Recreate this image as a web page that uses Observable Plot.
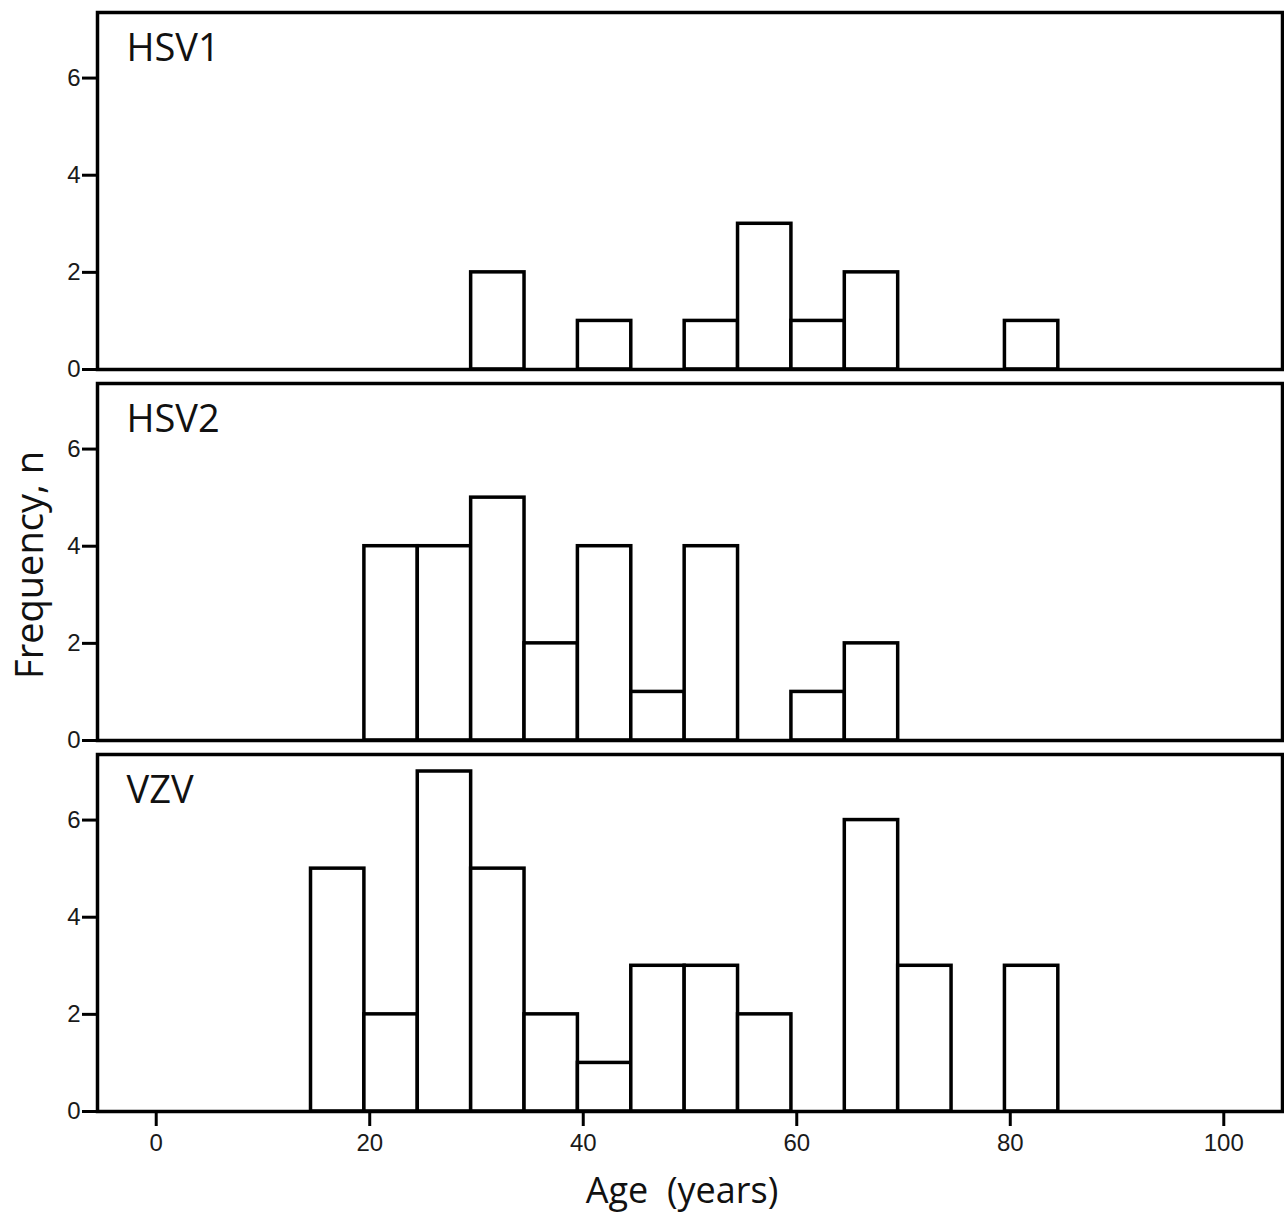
<!DOCTYPE html>
<html>
<head>
<meta charset="utf-8">
<script src="https://cdn.jsdelivr.net/npm/d3@7"></script>
<script src="https://cdn.jsdelivr.net/npm/@observablehq/plot@0.6"></script>
<style>
  html, body { margin: 0; padding: 0; background: #fff; }
  #chart svg { display: block; }
</style>
</head>
<body>
<div id="chart"></div>
<script>
// Panels (viruses)
const panels = ["HSV1", "HSV2", "VZV"];
// Lower edge of each 5-year age bin (years)
const binStarts = [15, 20, 25, 30, 35, 40, 45, 50, 55, 60, 65, 70, 75, 80];
const binWidth = 5;
// Frequencies per bin
const hsv1 = [0, 0, 0, 2, 0, 1, 0, 1, 3, 1, 2, 0, 0, 1];
const hsv2 = [0, 4, 4, 5, 2, 4, 1, 4, 0, 1, 2, 0, 0, 0];
const vzv  = [5, 2, 7, 5, 2, 1, 3, 3, 2, 0, 6, 3, 0, 3];
// Tick values
const xTicks = [0, 20, 40, 60, 80, 100];
const yTicks = [0, 2, 4, 6];
const xLabel = "Age\u00a0 (years)";
const yLabel = "Frequency, n";

const series = {HSV1: hsv1, HSV2: hsv2, VZV: vzv};
const rows = [];
for (const p of panels) {
  series[p].forEach((n, i) => {
    if (n > 0) rows.push({panel: p, lo: binStarts[i] - 0.5, hi: binStarts[i] - 0.5 + binWidth, n});
  });
}

const tickFont = {fontSize: 24, fontFamily: "Liberation Sans, Arial, sans-serif", fill: "#1a1a1a"};

const chart = Plot.plot({
  width: 1284,
  height: 1215,
  marginLeft: 97,
  marginRight: 2,
  marginTop: 11,
  marginBottom: 104,
  style: {background: "#fff"},
  x: {domain: [-5.5, 105.5]},
  y: {domain: [0, 7.35]},
  fy: {domain: panels, padding: 0.038, axis: null},
  marks: [
    Plot.rectY(rows, {x1: "lo", x2: "hi", y: "n", fy: "panel", fill: "#fff", stroke: "#000", strokeWidth: 3.5}),
    Plot.frame({stroke: "#000", strokeWidth: 3.5}),
    Plot.axisY({ticks: yTicks, tickSize: 15, tickPadding: 2, strokeWidth: 3, label: null, ...tickFont}),
    Plot.axisX({ticks: xTicks, tickSize: 15, tickPadding: 7, strokeWidth: 3, label: null, ...tickFont}),
    Plot.text(panels, {fy: d => d, text: d => d, frameAnchor: "top-left", dx: 29, dy: 36,
      lineAnchor: "middle", fontSize: 38, fontFamily: "Open Sans, Noto Sans, sans-serif", fill: "#111"}),
    Plot.text([panels[2]], {fy: d => d, text: () => xLabel, frameAnchor: "bottom", dx: -8, dy: 80,
      textAnchor: "middle", lineAnchor: "middle", fontSize: 36, fontFamily: "Open Sans, Noto Sans, sans-serif", fill: "#111"}),
    Plot.text([panels[1]], {fy: d => d, text: () => yLabel, frameAnchor: "left", dx: -67, dy: 3,
      rotate: -90, textAnchor: "middle", lineAnchor: "middle", fontSize: 38, fontFamily: "Open Sans, Noto Sans, sans-serif", fill: "#111"})
  ]
});
document.getElementById("chart").append(chart);
</script>
</body>
</html>
